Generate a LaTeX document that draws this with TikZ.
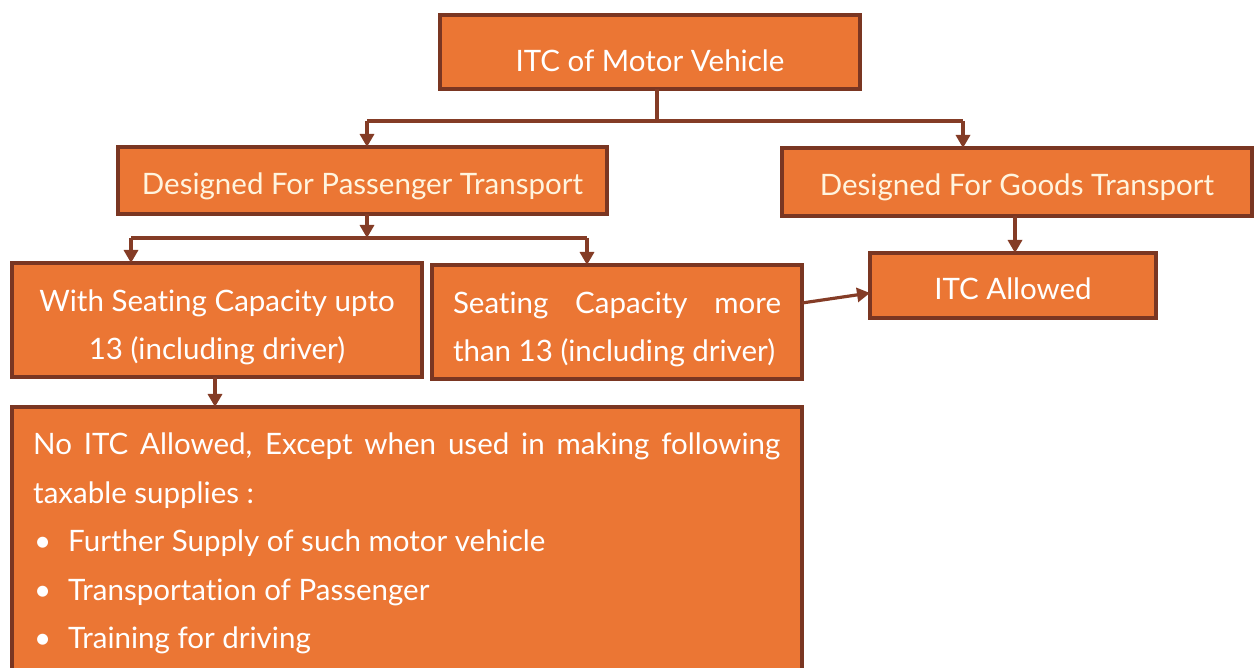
\documentclass[tikz,border=0pt]{standalone}
\usepackage{fontspec}
\setmainfont{Lato}[Ligatures=NoCommon]
\usetikzlibrary{arrows.meta}
\definecolor{boxfill}{RGB}{235,118,52}
\definecolor{boxline}{RGB}{122,54,34}
\definecolor{linkline}{RGB}{132,60,38}
\definecolor{softwhite}{RGB}{255,244,222}
\newcommand{\topstrut}{\rule{0pt}{36pt}}
\begin{document}
\begin{tikzpicture}[x=1pt,y=-1pt,
  box/.style={draw=boxline,fill=boxfill,line width=3.4pt,text=white,
    font=\fontsize{29.5}{48.5}\selectfont,inner sep=0pt,outer sep=0pt},
  link/.style={draw=linkline,line width=3.2pt},
  arr/.style={link,-{Triangle[width=14pt,length=13pt]}}]
\useasboundingbox (0,0) rectangle (1254,668);
\begin{scope}
\clip (0,0) rectangle (1254,668);
% boxes
\node[box,minimum width=420,minimum height=74,text height=40pt,text depth=0pt] (top) at (650,52)
  {ITC of Motor Vehicle};
\node[box,minimum width=489,minimum height=67,text=softwhite,text height=29pt,text depth=0pt] (pass) at (362.5,180.5)
  {Designed For Passenger Transport};
\node[box,minimum width=470,minimum height=68,text=softwhite,text height=28pt,text depth=0pt] (goods) at (1017,182)
  {Designed For Goods Transport};
\node[box,minimum width=410,minimum height=114,align=center] (upto) at (217,320)
  {\topstrut With Seating Capacity upto\\13 (including driver)};
\node[box,minimum width=370,minimum height=114,align=left] (more) at (617,322)
  {\topstrut\makebox[328pt][s]{Seating Capacity more}\\than 13 (including driver)};
\node[box,minimum width=286,minimum height=65,text height=29pt,text depth=0pt] (allowed) at (1013,285.5)
  {ITC Allowed};
\node[box,minimum width=790,minimum height=300,anchor=north] (none) at (407,407) {};
\node[text=white,font=\fontsize{29.5}{48.5}\selectfont,align=left,anchor=north west,inner sep=0pt]
  (nonetext) at (33,433)
  {\makebox[747pt][s]{No ITC Allowed, Except when used in making following}\\
   taxable supplies :\\
   \makebox[35pt][l]{\hspace{1pt}•}Further Supply of such motor vehicle\\
   \makebox[35pt][l]{\hspace{1pt}•}Transportation of Passenger\\
   \makebox[35pt][l]{\hspace{1pt}•}Training for driving};
% connectors
\coordinate (j1) at (657,121);
\coordinate (jl) at (367,121);
\coordinate (jr) at (963,121);
\draw[link] (top.south -| j1) -- (j1);
\draw[link] (jl) -- (jr);
\draw[arr] (jl) -- (jl |- pass.north);
\draw[arr] (jr) -- (jr |- goods.north);
\coordinate (j2) at (367,238);
\coordinate (j2l) at (131,238);
\coordinate (j2r) at (587,238);
\draw[arr] (pass.south -| j2) -- (j2);
\draw[link] (j2l) -- (j2r);
\draw[arr] (j2l) -- (j2l |- upto.north);
\draw[arr] (j2r) -- (j2r |- more.north);
\coordinate (g1) at (1015,216);
\draw[arr] (goods.south -| g1) -- (g1 |- allowed.north);
\draw[arr] (more.east |- 0,303) -- (allowed.west |- 0,293);
\coordinate (d1) at (215,377);
\draw[arr] (upto.south -| d1) -- (d1 |- none.north);
\end{scope}
\end{tikzpicture}
\end{document}
